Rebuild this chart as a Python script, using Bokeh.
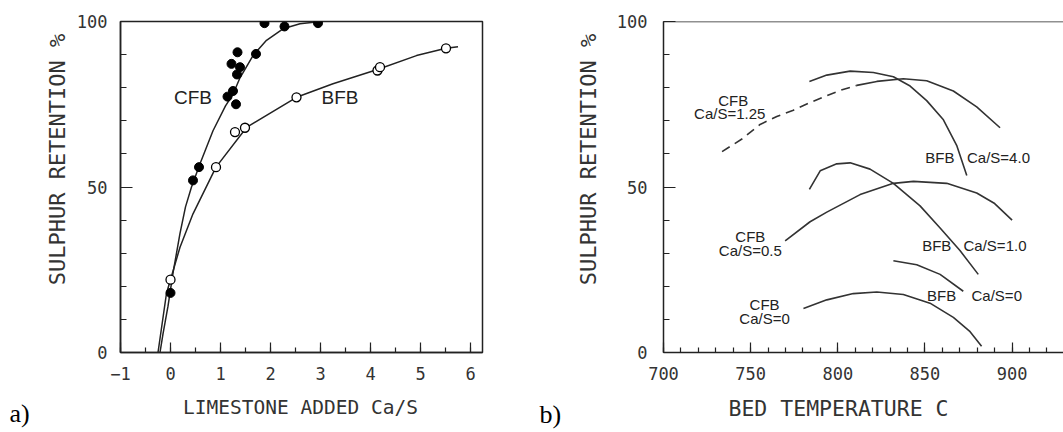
import math
from bokeh.plotting import figure
from bokeh.layouts import row
from bokeh.models import SingleIntervalTicker, Label, Span
from bokeh.core.properties import value
from bokeh.embed import file_html
from bokeh.resources import INLINE

# ---------------- panel a) data ----------------
a_cfb_x = [0.0, 0.45, 0.57, 1.14, 1.25, 1.31, 1.22, 1.33, 1.39, 1.34, 1.71, 1.88, 2.28, 2.95]
a_cfb_y = [18, 52, 56, 77.3, 79, 75, 87.2, 84, 86.2, 90.7, 90.2, 99.5, 98.5, 99.5]
a_bfb_x = [0.0, 0.91, 1.29, 1.49, 2.52, 4.14, 4.19, 5.51]
a_bfb_y = [22, 56, 66.6, 67.9, 77.1, 85.2, 86.2, 91.9]
a_cfb_fit_x = [-0.21, -0.15, -0.05, 0.05, 0.19, 0.3, 0.42, 0.59, 0.85, 1.1, 1.25, 1.39, 1.65, 1.92, 2.25, 2.59, 3.0]
a_cfb_fit_y = [0, 5.6, 14, 24, 36, 44, 50, 57, 67, 74.5, 78, 83, 89.7, 94.3, 97.8, 99.3, 100]
a_bfb_fit_x = [-0.25, -0.08, 0.0, 0.19, 0.45, 0.91, 1.52, 2.52, 3.25, 4.14, 4.92, 5.51, 5.75]
a_bfb_fit_y = [0, 17.9, 22, 31.8, 41.9, 56, 68, 77.1, 81.2, 85.5, 89.7, 91.9, 92.4]
a_labels = ["CFB", "BFB"]
a_label_x = [0.45, 3.39]
a_label_y = [77, 77]
a_xtitle = "LIMESTONE ADDED Ca/S"
a_ytitle = "SULPHUR RETENTION %"

# ---------------- panel b) data ----------------
b_cfb125_dash_t = [733.6, 745, 755.4, 765, 774.5, 784, 793.7, 802, 810.9]
b_cfb125_dash_y = [60.7, 64.5, 68.9, 71.3, 73.2, 75.5, 77.6, 79.3, 80.7]
b_cfb125_t = [810.9, 822.4, 837.6, 851, 866.3, 879.7, 893.1]
b_cfb125_y = [80.7, 81.9, 82.7, 82.1, 79, 74.2, 67.9]
b_bfb40_t = [783.7, 793.7, 807.1, 820.4, 831.9, 841.5, 851, 860.6, 868.2, 874]
b_bfb40_y = [81.9, 83.8, 85, 84.6, 83.3, 80.5, 76.1, 70.3, 62.6, 53.5]
b_bfb10_t = [783.7, 789.9, 799.4, 807.1, 818.5, 831.9, 847.2, 858.7, 870.1, 880.6]
b_bfb10_y = [49.3, 54.9, 57, 57.3, 55.4, 51.1, 44.3, 37.6, 30.8, 23.6]
b_cfb05_t = [769.8, 784.1, 793.7, 812.8, 831.9, 843.4, 862.5, 879.7, 890, 900]
b_cfb05_y = [33.7, 39.5, 42.4, 47.7, 51.1, 51.7, 51.1, 48.2, 45, 40]
b_bfb0_t = [831.9, 845.3, 858.7, 872]
b_bfb0_y = [27.7, 26.5, 23.6, 18.5]
b_cfb0_t = [780.3, 793.7, 808.9, 822.4, 837.6, 852.9, 866.3, 875.9, 882.5]
b_cfb0_y = [13.3, 15.9, 17.8, 18.3, 17.5, 14.9, 10.6, 6.3, 1.9]
b_labels = ["CFB", "Ca/S=1.25", "BFB", "Ca/S=4.0", "CFB", "Ca/S=0.5",
            "BFB", "Ca/S=1.0", "BFB", "Ca/S=0", "CFB", "Ca/S=0"]
b_label_t = [740, 738, 858.6, 892.2, 749.8, 749.8, 856.8, 890.2, 859.6, 891.2, 758, 758]
b_label_y = [76.1, 72.1, 58.8, 58.8, 34.9, 30.8, 32.3, 32.3, 17.3, 17.3, 14.6, 10.4]
b_xtitle = "BED TEMPERATURE C"
b_ytitle = "SULPHUR RETENTION %"

INK = "#222222"
TXT = "#333333"
MONO = "DejaVu Sans Mono"
SANS = "Liberation Sans"


def style_axes(p, xint, xminor, yint, yminor):
    p.xaxis.ticker = SingleIntervalTicker(interval=xint, num_minor_ticks=xminor)
    p.yaxis.ticker = SingleIntervalTicker(interval=yint, num_minor_ticks=yminor)
    for ax in (p.xaxis[0], p.yaxis[0]):
        ax.axis_line_color = INK
        ax.axis_line_width = 1.5
        ax.major_tick_line_color = INK
        ax.minor_tick_line_color = INK
        ax.major_tick_line_width = 1.2
        ax.minor_tick_line_width = 1.2
        ax.major_tick_out = 0
        ax.minor_tick_out = 0
        ax.major_label_text_font = MONO
        ax.major_label_text_font_size = "17px"
        ax.major_label_text_color = TXT
    p.xaxis.major_tick_in = 10
    p.xaxis.minor_tick_in = 5
    p.yaxis.major_tick_in = 12
    p.yaxis.minor_tick_in = 6
    p.xgrid.visible = False
    p.ygrid.visible = False


def side_text(p, text, x, y, size, font, place, angle=0.0, color=TXT, align="center"):
    # text placed in a side panel (not clipped to the frame), canvas coordinates
    p.add_layout(Label(x=x, y=y, x_units="canvas", y_units="canvas", text=text,
                       text_font=font, text_font_size=size, text_color=color,
                       text_align=align, text_baseline="middle", angle=angle), place)


# ---------------- panel a) ----------------
p1 = figure(width=530, height=432, x_range=(-1, 6.24), y_range=(0, 100),
            output_backend="svg", toolbar_location=None,
            min_border_left=120, min_border_right=48, min_border_top=21, min_border_bottom=80)
p1.outline_line_color = INK
p1.outline_line_width = 1.5
style_axes(p1, 1, 2, 50, 5)
p1.xaxis.major_label_standoff = 14
p1.yaxis.major_label_standoff = 13

p1.line(a_cfb_fit_x, a_cfb_fit_y, line_color=INK, line_width=1.5)
p1.line(a_bfb_fit_x, a_bfb_fit_y, line_color=INK, line_width=1.5)
p1.scatter(a_cfb_x, a_cfb_y, size=9, marker="circle", fill_color="black", line_color="black")
p1.scatter(a_bfb_x, a_bfb_y, size=9, marker="circle", fill_color="white", line_color="black", line_width=1.3)
p1.text(a_label_x, a_label_y, text=a_labels, text_font=value(SANS), text_font_size="19px",
        text_color=INK, text_align="center", text_baseline="middle")
side_text(p1, a_xtitle, 300, 407, "19.5px", MONO, "below")
side_text(p1, a_ytitle, 57, 159, "22px", MONO, "left", angle=math.pi / 2)
side_text(p1, "a)", 9, 413, "26px", "Liberation Serif", "left", color="black", align="left")

# ---------------- panel b) ----------------
p2 = figure(width=533, height=432, x_range=(700, 929.5), y_range=(0, 100),
            output_backend="svg", toolbar_location=None,
            min_border_left=133, min_border_right=0, min_border_top=11, min_border_bottom=75)
p2.outline_line_color = None
style_axes(p2, 50, 5, 50, 5)
p2.xaxis.major_label_standoff = 14
p2.yaxis.major_label_standoff = 16
p2.add_layout(Span(location=100, dimension="width", line_color=INK, line_width=1.5))

LC = "#333333"
p2.line(b_cfb125_dash_t, b_cfb125_dash_y, line_color=LC, line_width=1.6, line_dash="9 6")
p2.line(b_cfb125_t, b_cfb125_y, line_color=LC, line_width=1.6)
p2.line(b_bfb40_t, b_bfb40_y, line_color=LC, line_width=1.6)
p2.line(b_bfb10_t, b_bfb10_y, line_color=LC, line_width=1.6)
p2.line(b_cfb05_t, b_cfb05_y, line_color=LC, line_width=1.6)
p2.line(b_bfb0_t, b_bfb0_y, line_color=LC, line_width=1.6)
p2.line(b_cfb0_t, b_cfb0_y, line_color=LC, line_width=1.6)
p2.text(b_label_t, b_label_y, text=b_labels, text_font=value(SANS), text_font_size="15px",
        text_color=INK, text_align="center", text_baseline="middle")
side_text(p2, b_xtitle, 308, 408, "21.5px", MONO, "below")
side_text(p2, b_ytitle, 58, 159, "22px", MONO, "left", angle=math.pi / 2)
side_text(p2, "b)", 9, 414, "26px", "Liberation Serif", "left", color="black", align="left")

layout = row(p1, p2)
open("out.html", "w").write(file_html(layout, INLINE))
